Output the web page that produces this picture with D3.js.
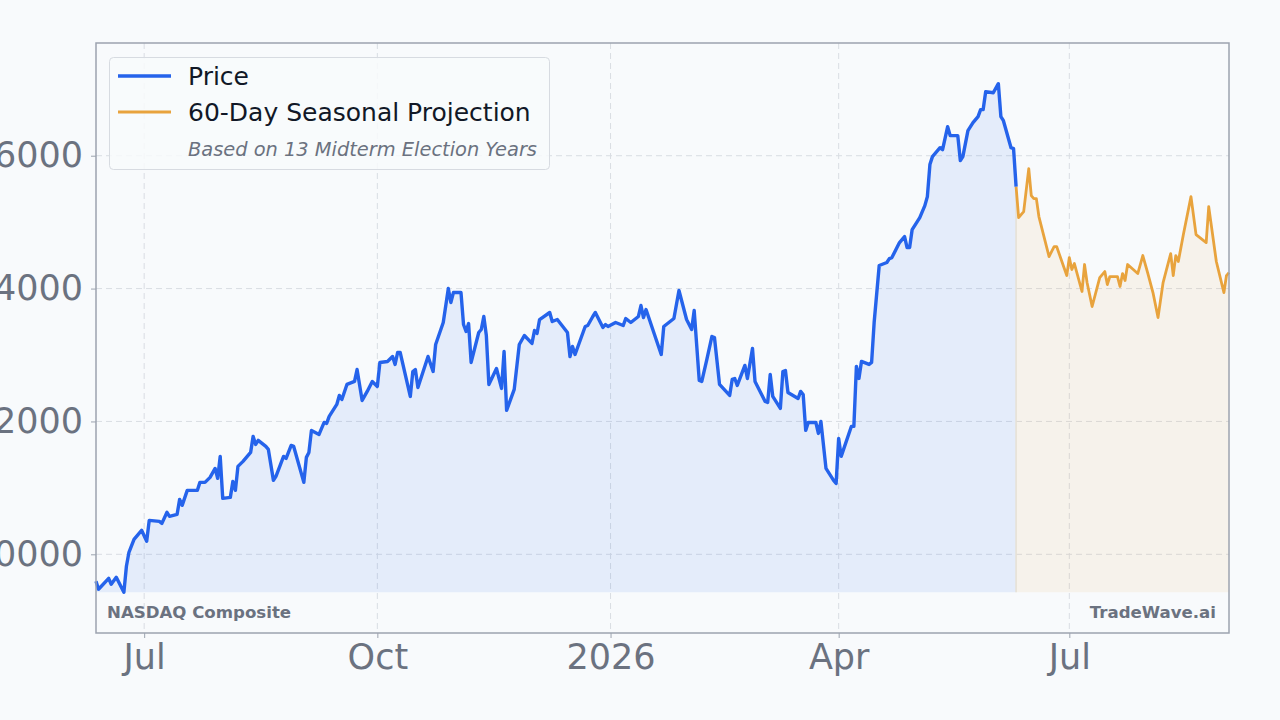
<!DOCTYPE html>
<html>
<head>
<meta charset="utf-8">
<script src="https://cdn.jsdelivr.net/npm/d3@7"></script>
<style>
  html, body { margin: 0; padding: 0; background: #f8fafc; }
  svg { display: block; font-family: "DejaVu Sans", sans-serif; }
</style>
</head>
<body>
<div id="chart"></div>
<script>
// price closes
const priceDates = [
  "2025-06-12","2025-06-13","2025-06-17","2025-06-18","2025-06-20","2025-06-23","2025-06-24","2025-06-25","2025-06-27","2025-06-30",
  "2025-07-02","2025-07-03","2025-07-07","2025-07-08","2025-07-10","2025-07-11","2025-07-14","2025-07-15","2025-07-16","2025-07-18",
  "2025-07-22","2025-07-23","2025-07-25","2025-07-27","2025-07-29","2025-07-30","2025-07-31","2025-08-01","2025-08-04","2025-08-05",
  "2025-08-06","2025-08-07","2025-08-09","2025-08-12","2025-08-13","2025-08-14","2025-08-15","2025-08-18","2025-08-19","2025-08-21",
  "2025-08-22","2025-08-25","2025-08-26","2025-08-28","2025-08-29","2025-09-02","2025-09-03","2025-09-04","2025-09-05","2025-09-08",
  "2025-09-10","2025-09-11","2025-09-12","2025-09-15","2025-09-16","2025-09-17","2025-09-19","2025-09-22","2025-09-23","2025-09-25",
  "2025-09-27","2025-09-29","2025-10-01","2025-10-02","2025-10-05","2025-10-07","2025-10-08","2025-10-09","2025-10-10","2025-10-14",
  "2025-10-15","2025-10-16","2025-10-17","2025-10-21","2025-10-23","2025-10-24","2025-10-27","2025-10-29","2025-10-30","2025-10-31",
  "2025-11-03","2025-11-04","2025-11-05","2025-11-06","2025-11-07","2025-11-10","2025-11-11","2025-11-12","2025-11-13","2025-11-14",
  "2025-11-17","2025-11-19","2025-11-20","2025-11-21","2025-11-24","2025-11-26","2025-11-28","2025-12-01","2025-12-02","2025-12-03",
  "2025-12-04","2025-12-08","2025-12-09","2025-12-11","2025-12-15","2025-12-16","2025-12-17","2025-12-18","2025-12-22","2025-12-23",
  "2025-12-25","2025-12-26","2025-12-29","2025-12-30","2025-12-31","2026-01-03","2026-01-06","2026-01-07","2026-01-09","2026-01-12",
  "2026-01-13","2026-01-14","2026-01-15","2026-01-21","2026-01-22","2026-01-24","2026-01-26","2026-01-28","2026-01-31","2026-02-02",
  "2026-02-03","2026-02-05","2026-02-06","2026-02-08","2026-02-10","2026-02-11","2026-02-13","2026-02-17","2026-02-18","2026-02-19",
  "2026-02-20","2026-02-23","2026-02-24","2026-02-26","2026-02-27","2026-03-03","2026-03-04","2026-03-05","2026-03-06","2026-03-09",
  "2026-03-10","2026-03-11","2026-03-12","2026-03-16","2026-03-17","2026-03-18","2026-03-19","2026-03-20","2026-03-23","2026-03-24",
  "2026-03-25","2026-03-27","2026-03-30","2026-03-31","2026-04-01","2026-04-02","2026-04-06","2026-04-07","2026-04-08","2026-04-09",
  "2026-04-10","2026-04-13","2026-04-14","2026-04-15","2026-04-17","2026-04-20","2026-04-21","2026-04-22","2026-04-25","2026-04-27",
  "2026-04-28","2026-04-29","2026-04-30","2026-05-03","2026-05-05","2026-05-06","2026-05-07","2026-05-08","2026-05-11","2026-05-12",
  "2026-05-14","2026-05-15","2026-05-18","2026-05-19","2026-05-20","2026-05-22","2026-05-24","2026-05-26","2026-05-27","2026-05-28",
  "2026-05-29","2026-06-01","2026-06-03","2026-06-04","2026-06-05","2026-06-08","2026-06-09","2026-06-10"
];
const priceValues = [
  19594,19474,19639,19549,19654,19428,19820,20030,20226,20361,
  20196,20511,20496,20466,20632,20572,20602,20827,20737,20963,
  20963,21083,21083,21158,21293,21143,21474,20842,20857,21098,
  20963,21324,21399,21534,21775,21654,21715,21624,21579,21113,
  21173,21474,21444,21639,21624,21083,21459,21534,21865,21805,
  21985,21970,22076,22256,22391,22331,22557,22602,22782,22316,
  22452,22602,22527,22888,22903,22978,22858,23038,23038,22376,
  22752,22782,22511,22978,22752,23158,23489,24001,23790,23940,
  23940,23459,23354,23474,22888,23339,23384,23580,23294,22557,
  22797,22497,23053,22166,22482,23158,23294,23174,23369,23324,
  23534,23640,23504,23534,23339,22978,23128,23008,23429,23444,
  23580,23640,23414,23459,23429,23489,23444,23549,23489,23580,
  23745,23564,23685,23008,23429,23489,23549,23971,23534,23384,
  23670,22617,22602,22933,23279,23264,22557,22391,22632,22647,
  22542,22843,22647,23098,22602,22301,22286,22707,22376,22196,
  22752,22767,22436,22346,22452,22406,21865,21985,21985,21820,
  22000,21293,21113,21068,21745,21474,21925,21925,22828,22647,
  22903,22858,22888,23489,24347,24392,24452,24467,24692,24783,
  24617,24617,24888,25068,25249,25384,25866,25986,26121,26091,
  26437,26302,26302,25926,25986,26377,26497,26588,26693,26693,
  26964,26948,27084,26588,26527,26121,26106,25535
];

// 60-day seasonal projection
const projDates = [
  "2026-06-10","2026-06-11","2026-06-13","2026-06-15","2026-06-16","2026-06-17","2026-06-18","2026-06-19","2026-06-23","2026-06-25",
  "2026-06-26","2026-06-30","2026-07-01","2026-07-02","2026-07-03","2026-07-06","2026-07-07","2026-07-08","2026-07-10","2026-07-13",
  "2026-07-15","2026-07-16","2026-07-17","2026-07-20","2026-07-21","2026-07-22","2026-07-23","2026-07-24","2026-07-28","2026-07-30",
  "2026-08-01","2026-08-03","2026-08-05","2026-08-07","2026-08-10","2026-08-11","2026-08-12","2026-08-13","2026-08-15","2026-08-18",
  "2026-08-20","2026-08-24","2026-08-25","2026-08-28","2026-08-31","2026-09-01","2026-09-02"
];
const projValues = [
  25535,25068,25159,25805,25399,25354,25354,25084,24482,24632,
  24632,24196,24467,24286,24377,23956,24362,24091,23730,24166,
  24256,24061,24181,24181,24031,24226,24121,24362,24226,24497,
  24226,23940,23564,24091,24527,24196,24497,24407,24813,25384,
  24813,24692,25234,24407,23940,24196,24241
];

const xTickDates = ["2025-07-01","2025-10-01","2026-01-01","2026-04-01","2026-07-01"];
const xTickLabels = ["Jul","Oct","2026","Apr","Jul"];
const yTicks = [20000, 22000, 24000, 26000];

const W = 1280, H = 720;
const mLeft = 96, mRight = 1229, mTop = 43, mBottom = 633;

const parse = d3.timeParse("%Y-%m-%d");
const price = priceDates.map((d, i) => ({date: parse(d), value: priceValues[i]}));
const proj = projDates.map((d, i) => ({date: parse(d), value: projValues[i]}));

const minV = d3.min(priceValues), maxV = d3.max(priceValues);
const pad = (maxV - minV) * 0.08;

const x = d3.scaleTime()
  .domain([price[0].date, proj[proj.length - 1].date])
  .range([mLeft, mRight]);
const y = d3.scaleLinear()
  .domain([minV - pad, maxV + pad])
  .range([mBottom, mTop]);

const svg = d3.select("#chart").append("svg")
  .attr("width", W)
  .attr("height", H);

svg.append("rect").attr("width", W).attr("height", H).attr("fill", "#f8fafc");

// grid
svg.append("g")
  .selectAll("line")
  .data(yTicks)
  .enter().append("line")
  .attr("x1", mLeft).attr("x2", mRight)
  .attr("y1", d => y(d)).attr("y2", d => y(d))
  .attr("stroke", "#d9dde3")
  .attr("stroke-width", 1)
  .attr("stroke-dasharray", "6,4");

svg.append("g")
  .selectAll("line")
  .data(xTickDates)
  .enter().append("line")
  .attr("x1", d => x(parse(d))).attr("x2", d => x(parse(d)))
  .attr("y1", mTop).attr("y2", mBottom)
  .attr("stroke", "#d9dde3")
  .attr("stroke-width", 1)
  .attr("stroke-dasharray", "6,4");

// fills
const base = y(minV);
const area = d3.area()
  .x(d => x(d.date))
  .y0(base)
  .y1(d => y(d.value));

svg.append("path")
  .datum(price)
  .attr("fill", "#2563eb")
  .attr("fill-opacity", 0.09)
  .attr("d", area);

svg.append("path")
  .datum(proj)
  .attr("fill", "#e8a33d")
  .attr("fill-opacity", 0.09)
  .attr("d", area);

svg.append("line")
  .attr("x1", x(proj[0].date)).attr("x2", x(proj[0].date))
  .attr("y1", y(proj[0].value)).attr("y2", base)
  .attr("stroke", "#e6e0d4")
  .attr("stroke-width", 1.5);

// lines
const line = d3.line()
  .x(d => x(d.date))
  .y(d => y(d.value));

svg.append("path")
  .datum(proj)
  .attr("fill", "none")
  .attr("stroke", "#e8a33d")
  .attr("stroke-width", 2.8)
  .attr("stroke-linejoin", "round")
  .attr("d", line);

svg.append("path")
  .datum(price)
  .attr("fill", "none")
  .attr("stroke", "#2563eb")
  .attr("stroke-width", 3.4)
  .attr("stroke-linejoin", "round")
  .attr("d", line);

// frame
svg.append("rect")
  .attr("x", mLeft).attr("y", mTop)
  .attr("width", mRight - mLeft).attr("height", mBottom - mTop)
  .attr("fill", "none")
  .attr("stroke", "#9ca3af")
  .attr("stroke-width", 1.5);

// axes
const yAxis = svg.append("g")
  .attr("transform", `translate(${mLeft},0)`)
  .call(d3.axisLeft(y).tickValues(yTicks).tickSize(5).tickPadding(8).tickFormat(d3.format("d")));
yAxis.select(".domain").remove();
yAxis.selectAll("line").attr("stroke", "#9ca3af");
yAxis.selectAll("text")
  .attr("fill", "#6b7280")
  .style("font-size", "35px")
  .style("font-family", "DejaVu Sans");

const xAxis = svg.append("g")
  .attr("transform", `translate(0,${mBottom})`)
  .call(d3.axisBottom(x).tickValues(xTickDates.map(parse)).tickSize(5).tickPadding(6)
    .tickFormat((d, i) => xTickLabels[i]));
xAxis.select(".domain").remove();
xAxis.selectAll("line").attr("stroke", "#9ca3af");
xAxis.selectAll("text")
  .attr("fill", "#6b7280")
  .style("font-size", "35px")
  .style("font-family", "DejaVu Sans");

// corner labels
svg.append("text")
  .attr("x", 107).attr("y", 618)
  .attr("fill", "#6b7280")
  .style("font-size", "16.6px")
  .style("font-weight", "bold")
  .text("NASDAQ Composite");

svg.append("text")
  .attr("x", 1216).attr("y", 618)
  .attr("text-anchor", "end")
  .attr("fill", "#6b7280")
  .style("font-size", "16.6px")
  .style("font-weight", "bold")
  .text("TradeWave.ai");

// legend
const lg = svg.append("g");
lg.append("rect")
  .attr("x", 109.5).attr("y", 57.5)
  .attr("width", 440).attr("height", 112)
  .attr("rx", 4)
  .attr("fill", "#f8fafc")
  .attr("fill-opacity", 0.85)
  .attr("stroke", "#d7dbe1");

lg.append("line")
  .attr("x1", 118).attr("x2", 171).attr("y1", 76).attr("y2", 76)
  .attr("stroke", "#2563eb").attr("stroke-width", 3.4);
lg.append("text")
  .attr("x", 188).attr("y", 85)
  .attr("fill", "#111827")
  .style("font-size", "25px")
  .text("Price");

lg.append("line")
  .attr("x1", 118).attr("x2", 171).attr("y1", 112).attr("y2", 112)
  .attr("stroke", "#e8a33d").attr("stroke-width", 2.8);
lg.append("text")
  .attr("x", 188).attr("y", 121)
  .attr("fill", "#111827")
  .style("font-size", "25px")
  .text("60-Day Seasonal Projection");

lg.append("text")
  .attr("x", 188).attr("y", 156)
  .attr("fill", "#6b7280")
  .style("font-size", "19.4px")
  .style("font-style", "italic")
  .text("Based on 13 Midterm Election Years");
</script>
</body>
</html>
